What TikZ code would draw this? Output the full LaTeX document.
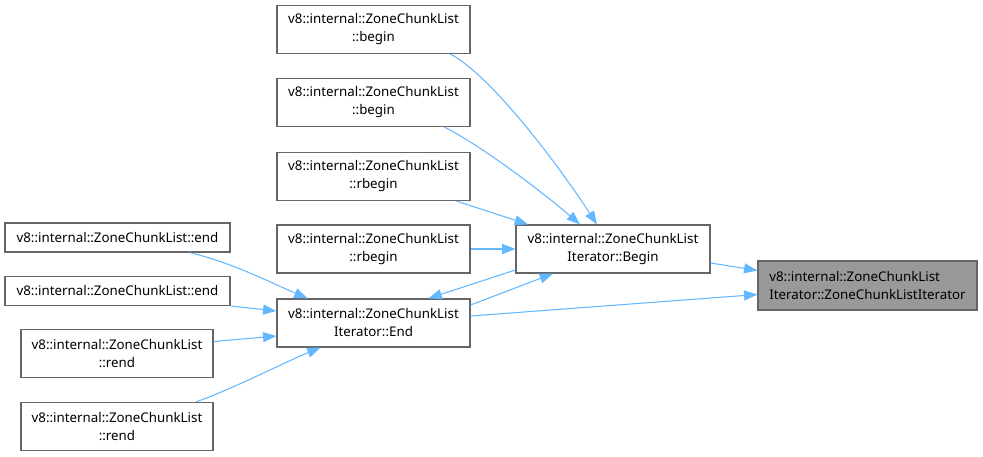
\documentclass[tikz,border=0pt]{standalone}
\usepackage{fontspec}
\setmainfont{Noto Sans}
\usetikzlibrary{arrows.meta,calc}
\definecolor{edgec}{HTML}{63B8FF}
\definecolor{boxc}{HTML}{666666}
\definecolor{hlc}{HTML}{999999}
\tikzset{
  fn/.style={draw=boxc, line width=0.9pt, fill=white, align=center, inner sep=0pt,
    font=\fontsize{10pt}{13.5pt}\selectfont, text=black},
  hl/.style={fn, fill=hlc, align=left},
  edge/.style={draw=edgec, line width=0.8pt, -{Triangle[length=10pt,width=7.5pt]}},
}
\begin{document}
\begin{tikzpicture}[x=0.75pt,y=-0.75pt]
\useasboundingbox (0,0) rectangle (983,457);
% nodes
\node[hl, minimum width=219*0.75pt, minimum height=49*0.75pt] (T) at (867.5,285.5) {v8::internal::ZoneChunkList\\Iterator::ZoneChunkListIterator};
\node[fn, minimum width=194*0.75pt, minimum height=48*0.75pt] (B) at (613,249) {v8::internal::ZoneChunkList\\Iterator::Begin};
\node[fn, minimum width=193*0.75pt, minimum height=48*0.75pt] (E) at (373.5,323) {v8::internal::ZoneChunkList\\Iterator::End};
\node[fn, minimum width=193*0.75pt, minimum height=48*0.75pt] (begin1) at (373.5,29.5) {v8::internal::ZoneChunkList\\::begin};
\node[fn, minimum width=193*0.75pt, minimum height=48*0.75pt] (begin2) at (373.5,102.5) {v8::internal::ZoneChunkList\\::begin};
\node[fn, minimum width=193*0.75pt, minimum height=48*0.75pt] (rbegin1) at (373.5,176.5) {v8::internal::ZoneChunkList\\::rbegin};
\node[fn, minimum width=193*0.75pt, minimum height=48*0.75pt] (rbegin2) at (373.5,249) {v8::internal::ZoneChunkList\\::rbegin};
\node[fn, minimum width=225*0.75pt, minimum height=29*0.75pt] (end1) at (117.5,237.5) {v8::internal::ZoneChunkList::end};
\node[fn, minimum width=225*0.75pt, minimum height=29*0.75pt] (end2) at (117.5,291) {v8::internal::ZoneChunkList::end};
\node[fn, minimum width=192*0.75pt, minimum height=48*0.75pt] (rend1) at (117,353.5) {v8::internal::ZoneChunkList\\::rend};
\node[fn, minimum width=192*0.75pt, minimum height=48*0.75pt] (rend2) at (117,426.5) {v8::internal::ZoneChunkList\\::rend};
% edges
\draw[edge] ([shift={(77,0)}]begin1.south) .. controls (490,75) and (555,160) .. ([shift={(-16,0)}]B.north);
\draw[edge] ([shift={(71,0)}]begin2.south) .. controls (480,145) and (540,190) .. ([shift={(-33,0)}]B.north);
\draw[edge] ([shift={(83,0)}]rbegin1.south) -- ([shift={(-85,0)}]B.north);
\draw[edge] (rbegin2.east) -- (B.west);
\draw[edge] ([shift={(0,14)}]B.east) -- ([shift={(0,-15)}]T.west);
\draw[edge] ([shift={(0,-7)}]E.east) -- ([shift={(0,9)}]T.west);
\draw[edge] ([shift={(0,-18)}]E.east) -- ([shift={(-60,0)}]B.south);
\draw[edge] ([shift={(0,21)}]B.west) -- ([shift={(55,0)}]E.north);
\draw[edge] ([shift={(72,0)}]end1.south) .. controls (230,262) and (265,280) .. ([shift={(-66,0)}]E.north);
\draw[edge] ([shift={(0,15)}]end2.east) -- ([shift={(0,-12)}]E.west);
\draw[edge] ([shift={(0,-12)}]rend1.east) -- ([shift={(0,13)}]E.west);
\draw[edge] ([shift={(79,0)}]rend2.north) .. controls (235,388) and (285,362) .. ([shift={(-53,0)}]E.south);
\end{tikzpicture}
\end{document}
